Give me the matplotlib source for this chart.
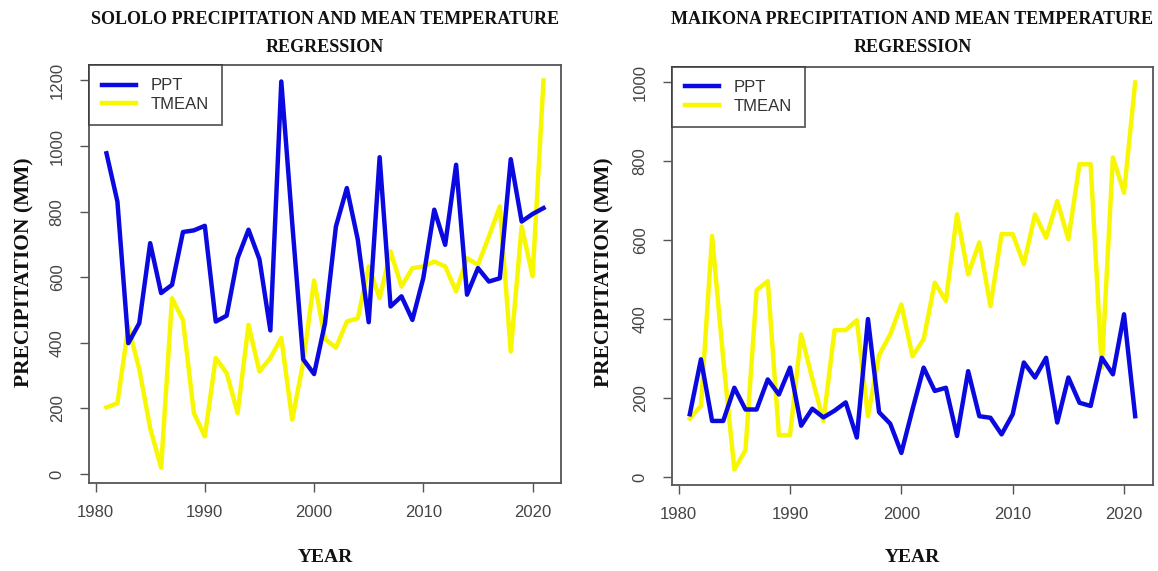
import matplotlib
matplotlib.use("Agg")
import matplotlib.pyplot as plt
import numpy as np

years = list(range(1981, 2022))

sololo_ppt = [978, 831, 399, 460, 704, 552, 577, 738, 743, 757,
              465, 483, 658, 745, 655, 438, 1197, 765, 350, 305,
              460, 755, 872, 715, 463, 966, 511, 542, 470, 598,
              806, 699, 943, 547, 628, 587, 597, 960, 770, 793, 811]
sololo_tmean = [203, 216, 450, 320, 140, 20, 536, 470, 186, 115,
                354, 308, 186, 455, 313, 354, 415, 166, 339, 590,
                412, 385, 465, 475, 633, 536, 679, 572, 628, 633,
                648, 633, 557, 658, 638, 724, 816, 374, 755, 603, 1200]

maikona_ppt = [160, 299, 143, 143, 227, 172, 172, 248, 210, 278,
               131, 174, 152, 169, 190, 101, 401, 165, 136, 62,
               172, 278, 219, 227, 105, 269, 155, 151, 109, 160,
               291, 253, 303, 139, 253, 189, 181, 303, 261, 413, 155]
maikona_tmean = [149, 181, 611, 300, 20, 69, 474, 497, 107, 107,
                 362, 250, 143, 373, 373, 398, 155, 310, 362, 438,
                 307, 350, 493, 447, 666, 514, 595, 434, 616, 616,
                 540, 666, 607, 700, 603, 793, 793, 278, 810, 721, 1000]

titles = ["SOLOLO PRECIPITATION AND MEAN TEMPERATURE\nREGRESSION",
          "MAIKONA PRECIPITATION AND MEAN TEMPERATURE\nREGRESSION"]
ylabel = "PRECIPITATION (MM)"
xlabel = "YEAR"
series_labels = ["PPT", "TMEAN"]
yticks_list = [list(range(0, 1201, 200)), list(range(0, 1001, 200))]
xticks = [1980, 1990, 2000, 2010, 2020]

BLUE = "#0a0ae0"
YELLOW = "#f7f700"
FRAME = "#555555"

W, H = 1158, 571
fig = plt.figure(figsize=(W / 100, H / 100), dpi=100)
fig.patch.set_facecolor("white")

def px_axes(x0, y0, x1, y1):
    return fig.add_axes([x0 / W, (H - y1) / H, (x1 - x0) / W, (y1 - y0) / H])

axes_px = [(89, 65, 561, 483), (672, 67, 1153, 485)]
datasets = [(sololo_ppt, sololo_tmean), (maikona_ppt, maikona_tmean)]

serif = ["Liberation Serif", "DejaVu Serif"]
sans = ["Liberation Sans", "DejaVu Sans"]

for i, (box, (ppt, tmean)) in enumerate(zip(axes_px, datasets)):
    ax = px_axes(*box)
    ax.plot(years, ppt, color=BLUE, lw=3.2, solid_joinstyle="round", label=series_labels[0], zorder=3)
    ax.plot(years, tmean, color=YELLOW, lw=3.2, solid_joinstyle="round", label=series_labels[1], zorder=2)
    # R-style 4% expansion
    xmin, xmax = min(years), max(years)
    dx = (xmax - xmin) * 0.04
    ax.set_xlim(xmin - dx, xmax + dx)
    allv = ppt + tmean
    ymin, ymax = min(allv), max(allv)
    dy = (ymax - ymin) * 0.04
    ax.set_ylim(ymin - dy, ymax + dy)
    ax.set_xticks(xticks)
    ax.set_yticks(yticks_list[i])
    ax.set_xticklabels([str(t) for t in xticks], family=sans, fontsize=12, color="#444444")
    ax.set_yticklabels([str(t) for t in yticks_list[i]], family=sans, fontsize=12,
                       color="#444444", rotation=90, va="center")
    ax.tick_params(axis="x", direction="out", length=6.5, width=1.0, color=FRAME, pad=9)
    ax.tick_params(axis="y", direction="out", length=6.5, width=1.0, color=FRAME, pad=11)
    for sp in ax.spines.values():
        sp.set_color(FRAME)
        sp.set_linewidth(1.3)
    leg = ax.legend(loc="upper left", borderaxespad=0, frameon=True, fancybox=False,
                    prop={"family": sans, "size": 12}, handlelength=2.0,
                    borderpad=0.8, labelspacing=0.2, handletextpad=0.9)
    leg.get_frame().set_edgecolor("#333333")
    leg.get_frame().set_linewidth(1.3)
    for t in leg.get_texts():
        t.set_color("#333333")
    cx = (box[0] + box[2]) / 2
    lines = titles[i].split("\n")
    fig.text(cx / W, 1 - 19 / H, lines[0], ha="center", va="center",
             family=serif, fontweight="bold", fontsize=13, color="#111111")
    fig.text(cx / W, 1 - 48 / H, lines[1], ha="center", va="center",
             family=serif, fontweight="bold", fontsize=13, color="#111111")
    fig.text(cx / W, 1 - 558 / H, xlabel, ha="center", va="center",
             family=serif, fontweight="bold", fontsize=14, color="#111111")
    ylx = 24 if i == 0 else 604
    fig.text(ylx / W, 1 - 272 / H, ylabel, ha="center", va="center", rotation=90,
             family=serif, fontweight="bold", fontsize=15.5, color="#111111")

fig.savefig("out.png", dpi=100, facecolor="white")
